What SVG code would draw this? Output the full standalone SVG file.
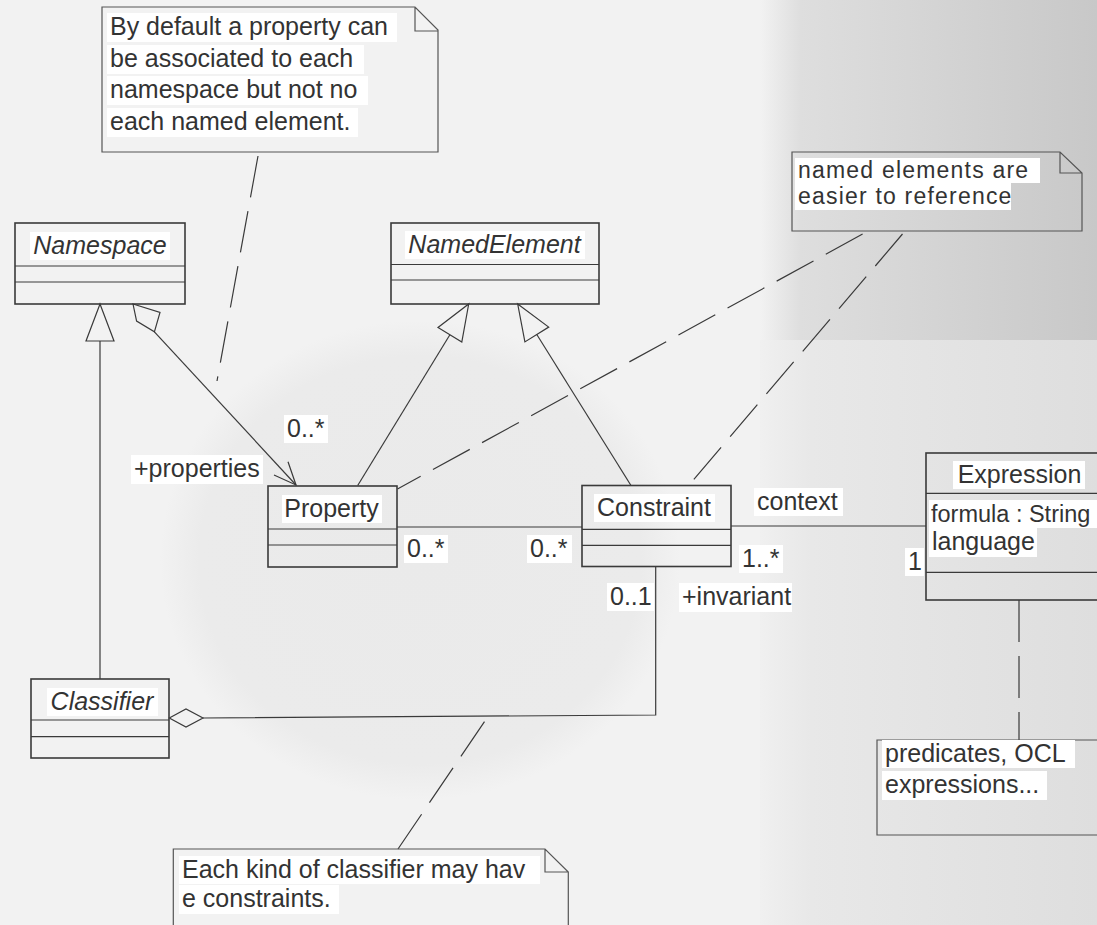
<svg xmlns="http://www.w3.org/2000/svg" width="1097" height="925" viewBox="0 0 1097 925">
<defs>
<style>
.t{font-family:"Liberation Sans",Arial,sans-serif;font-size:25px;fill:#333}
.s{font-size:23px;letter-spacing:1.2px}
.f{font-size:23.5px}
.i{font-style:italic}
.hl{fill:#fff}
.box{fill:none;stroke:#3a3a3a;stroke-width:1.6}
.sep{stroke:#3a3a3a;stroke-width:1.2}
.note{fill:none;stroke:#555;stroke-width:1.2}
.ln{fill:none;stroke:#3a3a3a;stroke-width:1.2}
.dash{fill:none;stroke:#3a3a3a;stroke-width:1.2;stroke-dasharray:42 14}
.hd{fill:none;stroke:#3a3a3a;stroke-width:1.2}
</style>
<linearGradient id="gtr" x1="0" y1="0" x2="1" y2="0">
<stop offset="0" stop-color="#f2f2f2"/>
<stop offset="0.12" stop-color="#dedede"/>
<stop offset="1" stop-color="#c8c8c8"/>
</linearGradient>
<linearGradient id="gbr" x1="0" y1="0" x2="1" y2="0">
<stop offset="0" stop-color="#f0f0f0"/>
<stop offset="0.15" stop-color="#e8e8e8"/>
<stop offset="1" stop-color="#dedede"/>
</linearGradient>
<radialGradient id="gel">
<stop offset="0" stop-color="#eaeaea"/>
<stop offset="0.85" stop-color="#ebebeb"/>
<stop offset="1" stop-color="#f2f2f2"/>
</radialGradient>
</defs>
<g id="background">
<rect x="0" y="0" width="1097" height="925" fill="#f2f2f2"/>
<rect x="760" y="0" width="337" height="340" fill="url(#gtr)"/>
<rect x="760" y="340" width="337" height="585" fill="url(#gbr)"/>
<ellipse cx="420" cy="560" rx="260" ry="240" fill="url(#gel)"/>
</g>

<g id="connectors">
<line class="ln" x1="397" y1="527" x2="582" y2="527"/>
<line class="ln" x1="731" y1="526" x2="926" y2="526"/>
<line class="ln" x1="100" y1="341" x2="100" y2="679"/>
<polygon class="hd" points="100,304 86,341 114,341"/>
<line class="ln" x1="357.7" y1="485.5" x2="449.9" y2="334.7"/>
<polygon class="hd" points="468.7,304 461.8,342 438,327.4"/>
<line class="ln" x1="631" y1="485.5" x2="536.8" y2="334.5"/>
<polygon class="hd" points="517.7,304 548.7,327.1 524.9,341.9"/>
<polygon class="hd" points="133,304 160,312.5 154.4,331.8 136.6,321"/>
<line class="ln" x1="154.4" y1="331.8" x2="296" y2="485"/>
<polyline class="hd" points="274,475 296,485 288,461.7"/>
<polygon class="hd" points="169.3,718 186,709 203,718 186,727"/>
<polyline class="ln" points="203,718 655.7,715 655.7,567"/>
<line class="dash" x1="258" y1="156" x2="217" y2="381"/>
<line class="dash" x1="862.6" y1="234" x2="397.5" y2="489"/>
<line class="dash" x1="902.5" y1="234" x2="689" y2="485"/>
<line class="dash" x1="1019" y1="600" x2="1019" y2="740"/>
<line class="dash" x1="398" y1="849" x2="487.6" y2="717"/>
</g>

<g id="note1">
<path class="note" d="M102,7 H415 L438,30 V152 H102 Z M415,7 V31 H438"/>
<rect class="hl" x="107" y="13" width="290" height="29"/>
<rect class="hl" x="107" y="45" width="257" height="29"/>
<rect class="hl" x="107" y="76" width="261" height="29"/>
<rect class="hl" x="107" y="108" width="251" height="29"/>
<text class="t" x="110" y="35">By default a property can</text>
<text class="t" x="110" y="67">be associated to each</text>
<text class="t" x="110" y="98">namespace but not no</text>
<text class="t" x="110" y="130">each named element.</text>
</g>

<g id="note2">
<path class="note" d="M792,152 H1060 L1082,173 V231 H792 Z M1060,152 V173 H1082"/>
<rect class="hl" x="795" y="158" width="245" height="25"/>
<rect class="hl" x="795" y="183" width="216" height="27"/>
<text class="t s" x="798" y="178">named elements are</text>
<text class="t s" x="798" y="204">easier to reference</text>
</g>

<g id="note3">
<path class="note" d="M877,740 H1110 V835 H877 Z"/>
<rect class="hl" x="882" y="740" width="193" height="28"/>
<rect class="hl" x="882" y="771" width="165" height="29"/>
<text class="t" x="885" y="762">predicates, OCL</text>
<text class="t" x="885" y="793">expressions...</text>
</g>

<g id="note4">
<path class="note" d="M173.3,849 H545 L568.3,872 V935 H173.3 Z M545,849 V872 H568.3"/>
<rect class="hl" x="179" y="856" width="361" height="28"/>
<rect class="hl" x="179" y="885" width="160" height="29"/>
<text class="t" x="182" y="878">Each kind of classifier may hav</text>
<text class="t" x="182" y="907">e constraints.</text>
</g>

<g id="namespace">
<rect class="box" x="15" y="223" width="170" height="81"/>
<line class="sep" x1="15" y1="266" x2="185" y2="266"/>
<line class="sep" x1="15" y1="282" x2="185" y2="282"/>
<rect class="hl" x="30" y="232" width="140" height="28"/>
<text class="t i" x="100" y="254" text-anchor="middle">Namespace</text>
</g>

<g id="namedelement">
<rect class="box" x="391" y="223" width="208" height="81"/>
<line class="sep" x1="391" y1="264.5" x2="599" y2="264.5"/>
<line class="sep" x1="391" y1="280" x2="599" y2="280"/>
<rect class="hl" x="405" y="231" width="180" height="28"/>
<text class="t i" x="494.5" y="253" text-anchor="middle">NamedElement</text>
</g>

<g id="property">
<rect class="box" x="268" y="486" width="129" height="81"/>
<line class="sep" x1="268" y1="529" x2="397" y2="529"/>
<line class="sep" x1="268" y1="545" x2="397" y2="545"/>
<rect class="hl" x="282" y="495" width="100" height="28"/>
<text class="t" x="331.5" y="517" text-anchor="middle">Property</text>
</g>

<g id="constraint">
<rect class="box" x="582" y="485.5" width="149" height="81"/>
<line class="sep" x1="582" y1="529.3" x2="731" y2="529.3"/>
<line class="sep" x1="582" y1="545.3" x2="731" y2="545.3"/>
<rect class="hl" x="594" y="494" width="121" height="28"/>
<text class="t" x="654" y="516" text-anchor="middle">Constraint</text>
</g>

<g id="expression">
<rect class="box" x="926" y="453" width="180" height="147"/>
<line class="sep" x1="926" y1="493.3" x2="1106" y2="493.3"/>
<line class="sep" x1="926" y1="572.3" x2="1106" y2="572.3"/>
<rect class="hl" x="953" y="461" width="132" height="28"/>
<text class="t" x="1019.5" y="483" text-anchor="middle">Expression</text>
<rect class="hl" x="929" y="500" width="168" height="28"/>
<rect class="hl" x="929" y="528" width="108" height="29"/>
<text class="t f" x="931" y="522">formula : String</text>
<text class="t" x="932" y="550">language</text>
</g>

<g id="classifier">
<rect class="box" x="31" y="679" width="138" height="79"/>
<line class="sep" x1="31" y1="720" x2="169" y2="720"/>
<line class="sep" x1="31" y1="736.7" x2="169" y2="736.7"/>
<rect class="hl" x="47" y="688" width="111" height="28"/>
<text class="t i" x="102" y="710" text-anchor="middle">Classifier</text>
</g>

<g id="labels">
<rect class="hl" x="131" y="455" width="132" height="29"/>
<text class="t" x="134" y="477">+properties</text>
<rect class="hl" x="284" y="415" width="44" height="28"/>
<text class="t" x="287" y="437">0..*</text>
<rect class="hl" x="404" y="535" width="44" height="28"/>
<text class="t" x="407" y="557">0..*</text>
<rect class="hl" x="527" y="535" width="45" height="28"/>
<text class="t" x="530" y="557">0..*</text>
<rect class="hl" x="754" y="488" width="89" height="28"/>
<text class="t" x="757" y="510">context</text>
<rect class="hl" x="739" y="545" width="44" height="28"/>
<text class="t" x="742" y="567">1..*</text>
<rect class="hl" x="905" y="548" width="19" height="28"/>
<text class="t" x="908" y="570">1</text>
<rect class="hl" x="607" y="583" width="47" height="28"/>
<text class="t" x="610" y="605">0..1</text>
<rect class="hl" x="679" y="583" width="113" height="29"/>
<text class="t" x="682" y="605">+invariant</text>
</g>
</svg>
